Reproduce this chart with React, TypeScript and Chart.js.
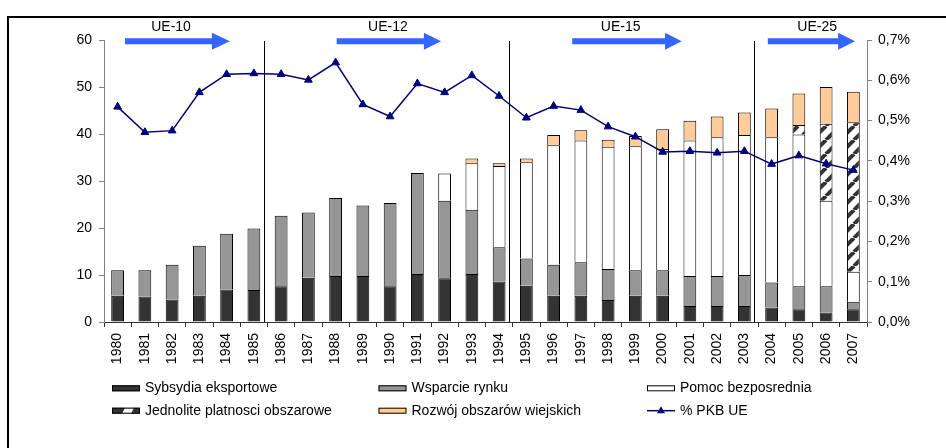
import React, { useEffect, useRef } from "react";
import { Chart, registerables } from "chart.js";

Chart.register(...registerables);

const years = [
  "1980", "1981", "1982", "1983", "1984", "1985", "1986", "1987", "1988", "1989",
  "1990", "1991", "1992", "1993", "1994", "1995", "1996", "1997", "1998", "1999",
  "2000", "2001", "2002", "2003", "2004", "2005", "2006", "2007",
];

const sybsydiaEksportowe = [
  5.6, 5.4, 4.8, 5.6, 6.9, 6.8, 7.6, 9.4, 9.8, 9.8,
  7.6, 10.2, 9.3, 10.2, 8.6, 7.7, 5.6, 5.6, 4.7, 5.6,
  5.6, 3.4, 3.4, 3.4, 3.1, 2.7, 2.0, 2.7,
];

const wsparcieRynku = [
  5.4, 5.6, 7.4, 10.6, 11.9, 13.1, 15.0, 13.9, 16.6, 15.0,
  17.7, 21.5, 16.5, 13.7, 7.3, 5.8, 6.6, 7.1, 6.6, 5.4,
  5.4, 6.4, 6.4, 6.6, 5.3, 4.9, 5.6, 1.6,
];

const pomocBezposrednia = [
  0, 0, 0, 0, 0, 0, 0, 0, 0, 0,
  0, 0, 5.8, 9.9, 17.3, 20.5, 25.4, 25.9, 26.0, 26.4,
  25.8, 28.8, 29.5, 29.8, 30.9, 32.3, 18.2, 6.4,
];

const jednolitePlatnosci = [
  0, 0, 0, 0, 0, 0, 0, 0, 0, 0,
  0, 0, 0, 0, 0, 0, 0, 0, 0, 0,
  0, 0, 0, 0, 0, 2.0, 16.4, 31.8,
];

const rozwojObszarow = [
  0, 0, 0, 0, 0, 0, 0, 0, 0, 0,
  0, 0, 0, 1.0, 0.6, 0.8, 2.2, 2.2, 1.5, 2.2,
  4.2, 4.2, 4.4, 4.8, 6.1, 6.7, 7.8, 6.5,
];

const pkbUE = [
  0.534, 0.471, 0.475, 0.570, 0.615, 0.617, 0.615, 0.601, 0.644, 0.540,
  0.510, 0.592, 0.570, 0.612, 0.561, 0.507, 0.536, 0.526, 0.485, 0.460,
  0.422, 0.424, 0.420, 0.424, 0.392, 0.413, 0.393, 0.377,
];

const leftMin = 0;
const leftMax = 60;
const leftStep = 10;
const rightMin = 0;
const rightMax = 0.7;
const rightStep = 0.1;

// enlargement periods (separator after the given year index)
const periodLabels = ["UE-10", "UE-12", "UE-15", "UE-25"];
const separatorAfter = [5, 14, 23];

// annotation geometry (in category units, relative to first category center)
const arrowGeom = [
  { start: 0.27, head: 3.46, end: 4.12, text: 1.96 },
  { start: 8.04, head: 11.24, end: 11.87, text: 9.92 },
  { start: 16.68, head: 20.09, end: 20.7, text: 18.46 },
  { start: 23.86, head: 26.44, end: 27.06, text: 25.67 },
];

const FONT = "'Liberation Sans', Arial, Helvetica, sans-serif";

function makeHatch(): CanvasPattern | string {
  const c = document.createElement("canvas");
  const p = 14;
  c.width = p;
  c.height = p;
  const g = c.getContext("2d");
  if (!g) return "#ffffff";
  g.fillStyle = "#ffffff";
  g.fillRect(0, 0, p, p);
  g.strokeStyle = "#333333";
  g.lineWidth = 4;
  g.lineCap = "butt";
  for (const off of [-p, 0, p]) {
    g.beginPath();
    g.moveTo(off, p);
    g.lineTo(off + p, 0);
    g.stroke();
  }
  const pat = g.createPattern(c, "repeat");
  return pat || "#ffffff";
}

const nz = (arr: number[]) => arr.map((v) => (v === 0 ? null : v));

export default function App() {
  const ref = useRef<HTMLCanvasElement | null>(null);

  useEffect(() => {
    if (!ref.current) return;
    const hatch = makeHatch();

    const overlay = {
      id: "overlay",
      beforeDatasetsDraw(chart: any) {
        const { ctx, scales } = chart;
        const x = scales.x;
        const y = scales.y;
        const step = x.getPixelForValue(1) - x.getPixelForValue(0);
        ctx.save();
        ctx.strokeStyle = "#000";
        ctx.lineWidth = 1;
        for (const i of separatorAfter) {
          const px = Math.round(x.getPixelForValue(i) + 0.36 * step) + 0.5;
          ctx.beginPath();
          ctx.moveTo(px, y.getPixelForValue(leftMax) + 1);
          ctx.lineTo(px, y.getPixelForValue(leftMin));
          ctx.stroke();
        }
        ctx.restore();
      },
      afterDraw(chart: any) {
        const { ctx, scales } = chart;
        const x = scales.x;
        const y = scales.y;
        const step = x.getPixelForValue(1) - x.getPixelForValue(0);
        const x0 = x.getPixelForValue(0);
        const yc = y.getPixelForValue(leftMax) + 1.3;
        ctx.save();
        // frame
        ctx.fillStyle = "#000";
        ctx.fillRect(7, 16, 946 - 7, 2);
        ctx.fillRect(7, 16, 2, 448 - 16);

        // arrows and labels
        arrowGeom.forEach((a, k) => {
          const xs = x0 + a.start * step;
          const xh = x0 + a.head * step;
          const xe = x0 + a.end * step;
          ctx.fillStyle = "#3366FF";
          ctx.beginPath();
          ctx.moveTo(xs, yc - 3);
          ctx.lineTo(xh, yc - 3);
          ctx.lineTo(xh, yc - 8.5);
          ctx.lineTo(xe, yc);
          ctx.lineTo(xh, yc + 8.5);
          ctx.lineTo(xh, yc + 3);
          ctx.lineTo(xs, yc + 3);
          ctx.closePath();
          ctx.fill();
          ctx.fillStyle = "#000";
          ctx.font = `14px ${FONT}`;
          ctx.textAlign = "center";
          ctx.textBaseline = "middle";
          ctx.fillText(periodLabels[k], x0 + a.text * step, yc - 14.5);
        });

        // legend
        const cols = [112, 378.5, 647];
        const rows = [388.3, 410.7];
        const bw = 28;
        const bh = 6;
        const items = [
          { label: "Sybsydia eksportowe", kind: "box", fill: "#333333" },
          { label: "Wsparcie rynku", kind: "box", fill: "#969696" },
          { label: "Pomoc bezposrednia", kind: "box", fill: "#ffffff" },
          { label: "Jednolite platnosci obszarowe", kind: "hatch", fill: "#333333" },
          { label: "Rozwój obszarów wiejskich", kind: "box", fill: "#FFCC99" },
          { label: "% PKB UE", kind: "line", fill: "#000080" },
        ];
        items.forEach((it, i) => {
          const lx = cols[i % 3];
          const ly = rows[Math.floor(i / 3)];
          if (it.kind === "line") {
            ctx.strokeStyle = "#000080";
            ctx.lineWidth = 1.5;
            ctx.beginPath();
            ctx.moveTo(lx, ly);
            ctx.lineTo(lx + bw, ly);
            ctx.stroke();
            ctx.fillStyle = "#000080";
            const cx = lx + bw / 2;
            ctx.beginPath();
            ctx.moveTo(cx, ly - 4.5);
            ctx.lineTo(cx + 4, ly + 2.5);
            ctx.lineTo(cx - 4, ly + 2.5);
            ctx.closePath();
            ctx.fill();
          } else {
            const bx = lx;
            const by = ly - bh / 2;
            ctx.fillStyle = it.fill;
            ctx.fillRect(bx, by, bw, bh);
            if (it.kind === "hatch") {
              ctx.fillStyle = "#ffffff";
              ctx.beginPath();
              ctx.moveTo(bx + 10, by + bh);
              ctx.lineTo(bx + 13, by);
              ctx.lineTo(bx + 22, by);
              ctx.lineTo(bx + 19, by + bh);
              ctx.closePath();
              ctx.fill();
            }
            ctx.strokeStyle = "#000";
            ctx.lineWidth = 1;
            ctx.strokeRect(bx + 0.5, by + 0.5, bw - 1, bh - 1);
          }
          ctx.fillStyle = "#000";
          ctx.font = `14px ${FONT}`;
          ctx.textAlign = "left";
          ctx.textBaseline = "middle";
          ctx.fillText(it.label, lx + 33, ly);
        });
        ctx.restore();
      },
    };

    const barCommon = {
      type: "bar" as const,
      stack: "s",
      yAxisID: "y",
      borderColor: "#000",
      borderWidth: 1,
      barPercentage: 0.47,
      categoryPercentage: 1,
      order: 1,
    };

    const chart = new Chart(ref.current, {
      type: "bar",
      data: {
        labels: years,
        datasets: [
          { ...barCommon, label: "Sybsydia eksportowe", data: nz(sybsydiaEksportowe), backgroundColor: "#333333" },
          { ...barCommon, label: "Wsparcie rynku", data: nz(wsparcieRynku), backgroundColor: "#969696" },
          { ...barCommon, label: "Pomoc bezposrednia", data: nz(pomocBezposrednia), backgroundColor: "#ffffff" },
          { ...barCommon, label: "Jednolite platnosci obszarowe", data: nz(jednolitePlatnosci), backgroundColor: hatch as any },
          { ...barCommon, label: "Rozwój obszarów wiejskich", data: nz(rozwojObszarow), backgroundColor: "#FFCC99" },
          {
            type: "line" as const,
            label: "% PKB UE",
            data: pkbUE,
            yAxisID: "y1",
            borderColor: "#000080",
            backgroundColor: "#000080",
            borderWidth: 1.5,
            pointStyle: "triangle",
            pointRadius: 4.5,
            pointBorderWidth: 1,
            tension: 0,
            order: 0,
          } as any,
        ],
      },
      options: {
        responsive: false,
        animation: false,
        layout: { padding: { top: 40, left: 0, right: 0, bottom: 0 } },
        plugins: {
          legend: { display: false },
          tooltip: { enabled: false },
        },
        scales: {
          x: {
            stacked: true,
            offset: true,
            grid: { drawOnChartArea: false, tickLength: 5, color: "#333", offset: true },
            border: { color: "#333", width: 1 },
            ticks: {
              autoSkip: false,
              minRotation: 90,
              maxRotation: 90,
              padding: 6,
              color: "#000",
              font: { family: FONT, size: 14 },
            },
            afterFit: (s: any) => {
              s.height = 126;
            },
          },
          y: {
            stacked: true,
            position: "left",
            min: leftMin,
            max: leftMax,
            grid: { drawOnChartArea: false, tickLength: 5, color: "#808080" },
            border: { color: "#808080", width: 1 },
            ticks: {
              stepSize: leftStep,
              padding: 7,
              color: "#000",
              font: { family: FONT, size: 14 },
            },
            afterFit: (s: any) => {
              s.width = 104;
            },
          },
          y1: {
            stacked: false,
            position: "right",
            min: rightMin,
            max: rightMax,
            grid: { drawOnChartArea: false, tickLength: 5, color: "#808080" },
            border: { color: "#808080", width: 1 },
            ticks: {
              stepSize: rightStep,
              padding: 6,
              color: "#000",
              font: { family: FONT, size: 14 },
              callback: (v: any) => `${Number(v).toFixed(1).replace(".", ",")}%`,
            },
            afterFit: (s: any) => {
              s.width = 79;
            },
          },
        },
      },
      plugins: [overlay],
    });

    return () => chart.destroy();
  }, []);

  return (
    <div style={{ position: "fixed", left: 0, top: 0, width: 946, height: 448, background: "#fff" }}>
      <canvas ref={ref} width={946} height={448} style={{ display: "block", width: 946, height: 448 }} />
    </div>
  );
}
